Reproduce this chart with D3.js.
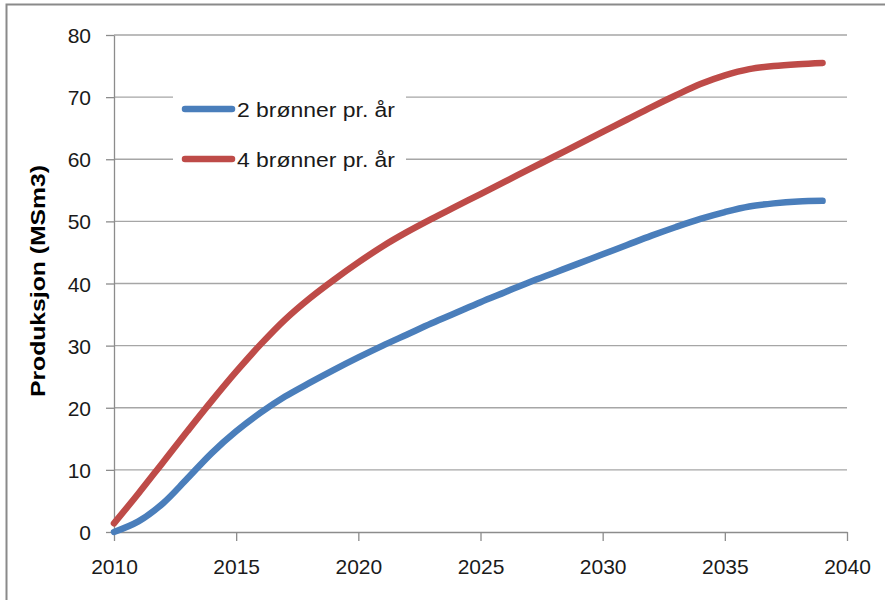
<!DOCTYPE html>
<html>
<head>
<meta charset="utf-8">
<script src="https://cdn.jsdelivr.net/npm/d3@7"></script>
<style>
  body { margin: 0; background: #fff; }
  svg { display: block; font-family: "Liberation Sans", Arial, sans-serif; }
  .axis path, .axis line { stroke: #8c8c8c; stroke-width: 1.3; }
  .grid line { stroke: #a6a6a6; stroke-width: 1.3; }
  .axis text { fill: #1a1a1a; font-size: 21px; }
</style>
</head>
<body>
<script>
// data
var years = [2010, 2011, 2012, 2013, 2014, 2015, 2016, 2017, 2018, 2019,
             2020, 2021, 2022, 2023, 2024, 2025, 2026, 2027, 2028, 2029,
             2030, 2031, 2032, 2033, 2034, 2035, 2036, 2037, 2038, 2039];
var to2 = [0, 1.7, 4.6, 8.6, 12.7, 16.2, 19.2, 21.8, 24.0, 26.1,
           28.1, 30.0, 31.8, 33.6, 35.3, 37.0, 38.6, 40.2, 41.7, 43.2,
           44.7, 46.2, 47.7, 49.1, 50.4, 51.5, 52.4, 52.9, 53.2, 53.3];
var to4 = [1.4, 6.2, 11.2, 16.2, 21.1, 25.8, 30.2, 34.2, 37.6, 40.6,
           43.4, 46.0, 48.3, 50.4, 52.4, 54.4, 56.4, 58.4, 60.4, 62.4,
           64.4, 66.4, 68.4, 70.3, 72.1, 73.5, 74.5, 75.0, 75.3, 75.5];
var seriesNames = ["2 brønner pr. år", "4 brønner pr. år"];
var seriesColors = ["#4a7ebb", "#be4b48"];
var xTicks = [2010, 2015, 2020, 2025, 2030, 2035, 2040];
var yTicks = [0, 10, 20, 30, 40, 50, 60, 70, 80];

var W = 885, H = 600;
var margin = {top: 35, right: 38, bottom: 68, left: 114},
    width = W - margin.left - margin.right,
    height = H - margin.top - margin.bottom;

var svg = d3.select("body").append("svg")
    .attr("width", W)
    .attr("height", H);

// outer chart frame (cut off at right / bottom like the screenshot)
svg.append("rect")
    .attr("x", 6.5).attr("y", 4.5)
    .attr("width", W + 20).attr("height", H + 20)
    .attr("fill", "none")
    .attr("stroke", "#8a8a8a")
    .attr("stroke-width", 2);

var g = svg.append("g")
    .attr("transform", "translate(" + margin.left + "," + margin.top + ")");

var x = d3.scaleLinear().domain([2010, 2040]).range([0, width]);
var y = d3.scaleLinear().domain([0, 80]).range([height, 0]);

// gridlines
g.append("g")
    .attr("class", "grid")
    .selectAll("line")
    .data(yTicks.filter(function(d){ return d > 0; }))
    .enter().append("line")
    .attr("x1", 0)
    .attr("x2", width)
    .attr("y1", function(d){ return y(d); })
    .attr("y2", function(d){ return y(d); });

// y axis
var yAxisG = g.append("g")
    .attr("class", "axis")
    .call(d3.axisLeft(y).tickValues(yTicks).tickSize(8).tickSizeOuter(0).tickPadding(15));
yAxisG.selectAll("text").attr("dy", "0.36em");

// x axis
var xAxisG = g.append("g")
    .attr("class", "axis")
    .attr("transform", "translate(0," + height + ")")
    .call(d3.axisBottom(x).tickValues(xTicks).tickFormat(d3.format("d")).tickSize(9).tickSizeOuter(0).tickPadding(18));
xAxisG.selectAll("text").attr("dy", "0.71em");

// y axis title
svg.append("text")
    .attr("transform", "translate(45,281) rotate(-90)")
    .attr("text-anchor", "middle")
    .attr("font-weight", "bold")
    .attr("font-size", "20px")
    .attr("fill", "#000")
    .attr("textLength", 232)
    .attr("lengthAdjust", "spacingAndGlyphs")
    .text("Produksjon (MSm3)");

// lines
var line = d3.line()
    .x(function(d){ return x(d.year); })
    .y(function(d){ return y(d.value); })
    .curve(d3.curveCatmullRom.alpha(0.5));

var series = [to2, to4].map(function(vals, i) {
    return {
        name: seriesNames[i],
        color: seriesColors[i],
        values: years.map(function(yr, j){ return {year: yr, value: vals[j]}; })
    };
});

g.selectAll(".series")
    .data(series)
    .enter().append("path")
    .attr("class", "series")
    .attr("fill", "none")
    .attr("stroke", function(d){ return d.color; })
    .attr("stroke-width", 6.5)
    .attr("stroke-linecap", "round")
    .attr("stroke-linejoin", "round")
    .attr("d", function(d){ return line(d.values); });

// legend
var legend = svg.append("g");
legend.append("rect")
    .attr("x", 173).attr("y", 82)
    .attr("width", 233).attr("height", 98)
    .attr("fill", "#fff");

var item = legend.selectAll(".item")
    .data(series)
    .enter().append("g")
    .attr("class", "item")
    .attr("transform", function(d, i){ return "translate(0," + (109 + i * 50) + ")"; });

item.append("line")
    .attr("x1", 185).attr("x2", 232)
    .attr("stroke", function(d){ return d.color; })
    .attr("stroke-width", 6.5)
    .attr("stroke-linecap", "round");

item.append("text")
    .attr("x", 237)
    .attr("y", 8)
    .attr("font-size", "20px")
    .attr("fill", "#1a1a1a")
    .attr("textLength", 158)
    .attr("lengthAdjust", "spacingAndGlyphs")
    .text(function(d){ return d.name; });
</script>
</body>
</html>
